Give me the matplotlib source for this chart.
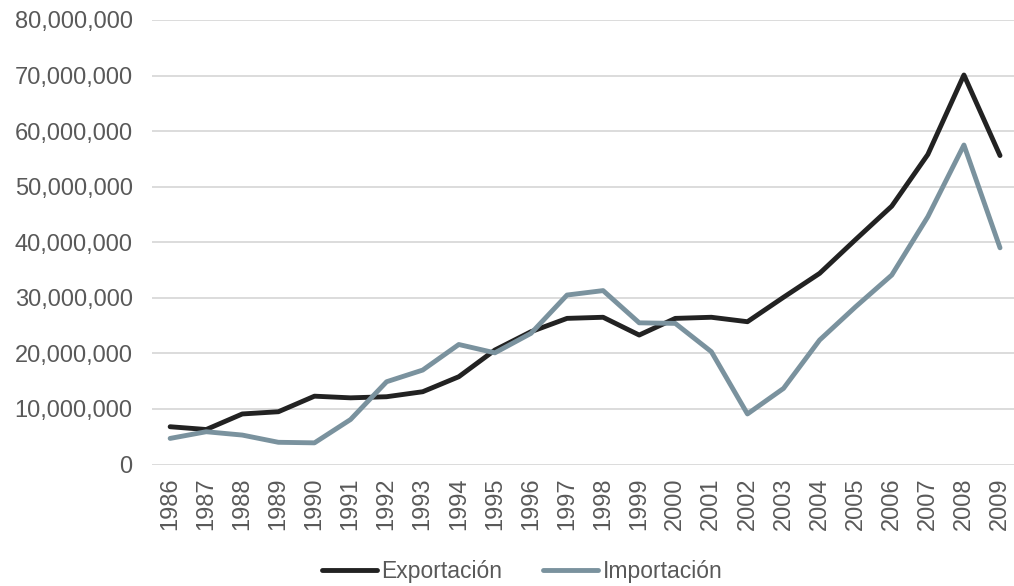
import matplotlib
matplotlib.use("Agg")
import matplotlib.pyplot as plt
from matplotlib.ticker import FuncFormatter

years = [str(y) for y in range(1986, 2010)]
exportacion = [6.8, 6.3, 9.1, 9.5, 12.3, 12.0, 12.2, 13.1, 15.8, 20.6, 23.9, 26.3,
               26.5, 23.3, 26.3, 26.5, 25.7, 30.1, 34.4, 40.5, 46.5, 55.8, 70.1, 55.6]
importacion = [4.7, 5.9, 5.3, 4.0, 3.9, 8.1, 14.9, 17.0, 21.6, 20.1, 23.6, 30.5,
               31.3, 25.5, 25.4, 20.3, 9.1, 13.7, 22.4, 28.4, 34.1, 44.6, 57.5, 39.0]
exportacion = [v * 1e6 for v in exportacion]
importacion = [v * 1e6 for v in importacion]

plt.rcParams['font.family'] = ['Liberation Sans', 'DejaVu Sans']

fig = plt.figure(figsize=(10.14, 5.86), dpi=100)
ax = fig.add_axes([0.150, 0.2073, 0.854, 0.7586])

x = list(range(len(years)))
ax.plot(x, exportacion, color='#222222', lw=3.5, label='Exportación', solid_capstyle='round')
ax.plot(x, importacion, color='#7a929e', lw=3.5, label='Importación', solid_capstyle='round')

ax.set_xlim(-0.5, len(years) - 0.5)
ax.set_ylim(0, 80e6)
ax.set_yticks(range(0, 80000001, 10000000))
ax.yaxis.set_major_formatter(FuncFormatter(lambda v, p: f'{int(v):,}'))
ax.set_xticks(x)
ax.set_xticklabels(years, rotation=90)
ax.grid(axis='y', color='#d9d9d9', lw=1.3)
ax.set_axisbelow(True)
for s in ax.spines.values():
    s.set_visible(False)
ax.tick_params(axis='y', length=0, pad=14, labelsize=17, labelcolor='#595959')
ax.tick_params(axis='x', length=0, pad=9, labelsize=17, labelcolor='#595959')

fig.legend(loc='center', bbox_to_anchor=(0.515, 0.024), ncol=2, frameon=False,
           fontsize=16.5, labelcolor='#595959', handlelength=2.4, handletextpad=0.2,
           columnspacing=1.8, borderaxespad=0, borderpad=0)

fig.savefig('out.png', dpi=100)
